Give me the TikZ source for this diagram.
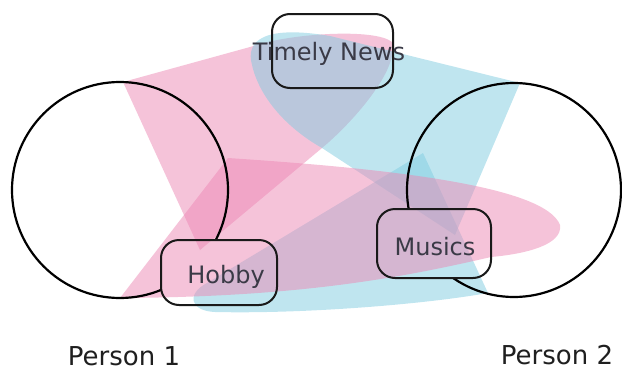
\documentclass[tikz,border=0pt]{standalone}
\usepackage{fontspec}
\setmainfont{DejaVu Sans}
\definecolor{pinkc}{RGB}{236,136,180}
\definecolor{bluec}{RGB}{128,204,224}
\definecolor{txt}{RGB}{58,58,70}
\begin{document}
\begin{tikzpicture}[x=1pt,y=-1pt,
  topic/.style={rectangle, rounded corners=18pt, inner sep=0pt, outer sep=0pt, fill=white},
  person/.style={circle, inner sep=0pt, outer sep=0pt, draw=black, line width=2.2pt},
  beamP/.style={fill=pinkc, fill opacity=0.5},
  beamB/.style={fill=bluec, fill opacity=0.5},
  lbl/.style={font=\fontsize{24}{28}\selectfont, text=txt, inner sep=0pt},
  plbl/.style={font=\fontsize{26}{30}\selectfont, text=black!88, inner sep=0pt},
  outline/.style={draw=black!90, line width=2pt}
]
\useasboundingbox (0,0) rectangle (622,370);
% topic boxes (white ground)
\node[topic, minimum width=121pt, minimum height=74pt] (news) at (332.5,51) {};
\node[topic, minimum width=116pt, minimum height=65pt] (hobby) at (219,272.5) {};
\node[topic, minimum width=114pt, minimum height=69pt] (musics) at (434,243.5) {};
% beams
\path[beamP] (200,250) -- (123,82) -- (250,47) .. controls (290,33) and (375,28) .. (392,42) .. controls (400,70) and (350,125) .. (322,148) -- cycle;
\path[beamB] (455,235) -- (520,83) -- (330,36) .. controls (265,25) and (245,40) .. (252,65) .. controls (260,100) and (290,130) .. (322,148) -- cycle;
\path[beamB] (423,153) -- (488,293) .. controls (420,305) and (300,314) .. (215,312) .. controls (190,311) and (186,294) .. (207,283) -- cycle;
\path[beamP] (120,298) -- (228,158) .. controls (380,168) and (545,185) .. (560,225) .. controls (563,245) and (525,254) .. (491,257) .. controls (400,278) and (300,297) .. (120,298) -- cycle;
% persons
\begin{scope}[even odd rule, rounded corners=18pt]
\clip (-10,-10) rectangle (640,390)
  (news.south west) rectangle (news.north east)
  (hobby.south west) rectangle (hobby.north east)
  (musics.south west) rectangle (musics.north east);
\node[person, minimum size=216pt] (p1) at (120,190) {};
\node[person, minimum size=214pt] (p2) at (514,190) {};
\end{scope}
% box outlines
\draw[outline, rounded corners=18pt] (news.south west) rectangle (news.north east);
\draw[outline, rounded corners=18pt] (hobby.south west) rectangle (hobby.north east);
\draw[outline, rounded corners=18pt] (musics.south west) rectangle (musics.north east);
% labels
\node[lbl, anchor=base] (tnews) at (329,60) {Timely News};
\node[lbl, anchor=base] (thobby) at (226,283) {Hobby};
\node[lbl, anchor=base] (tmusics) at (435,255) {Musics};
\node[plbl, anchor=base] (tp1) at (124,365) {Person 1};
\node[plbl, anchor=base] (tp2) at (557,364) {Person 2};
\end{tikzpicture}
\end{document}
